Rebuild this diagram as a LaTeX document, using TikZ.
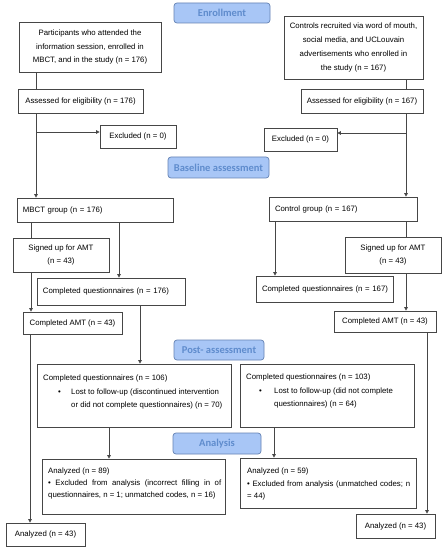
\documentclass[tikz,border=0pt]{standalone}
\usepackage{fontspec}
\setmainfont{Liberation Sans}
\newfontfamily\tabfont{Carlito}
\usetikzlibrary{arrows.meta}
\definecolor{tabfill}{RGB}{168,198,246}
\definecolor{tabdraw}{RGB}{100,130,180}
\definecolor{tabtext}{RGB}{95,140,205}
\definecolor{boxline}{RGB}{70,70,70}
\newcommand\boxfont[1]{\fontsize{7.8bp}{#1}\selectfont}
\begin{document}
\begin{tikzpicture}[x=1bp,y=-1bp,
  box/.style={draw=boxline, line width=0.7bp, fill=white, inner sep=0pt, align=center, font=\boxfont{13.7bp}},
  lbox/.style={box, align=left, inner xsep=6bp},
  tab/.style={draw=tabdraw, fill=tabfill, line width=0.7bp, rounded corners=3bp, inner sep=0pt, font=\tabfont\bfseries\fontsize{10.5bp}{12bp}\selectfont, text=tabtext},
  txt/.style={inner sep=0pt, anchor=base west},
  conn/.style={draw=boxline, line width=0.7bp},
  arr/.style={conn, -{Triangle[length=3.5bp,width=3.5bp]}},
]
\fill[white] (0,0) rectangle (446,550);
\useasboundingbox (0,0) rectangle (446,550);

% phase tabs
\node[tab, minimum width=96bp, minimum height=20bp] (enr) at (222,13) {Enrollment};
\node[tab, minimum width=101bp, minimum height=21bp] (base) at (218.5,167.5) {Baseline assessment};
\node[tab, minimum width=90bp, minimum height=20bp] (post) at (219,350) {Post- assessment};
\node[tab, minimum width=88bp, minimum height=21bp] (ana) at (217,443.5) {Analysis};

% left column
\node[box, minimum width=142bp, minimum height=50bp] (p1) at (90,47) {Participants who attended the\\information session, enrolled in\\MBCT, and in the study (n = 176)};
\node[box, minimum width=125bp, minimum height=24bp] (asl) at (80.5,101) {Assessed for eligibility (n = 176)};
\node[box, minimum width=76bp, minimum height=23bp] (exl) at (138,136.5) {Excluded (n = 0)};
\node[lbox, text width=144bp, minimum height=24bp] (mbct) at (95,210) {\mbox{MBCT group (n = 176)}};
\node[box, minimum width=96bp, minimum height=34bp] (sul) at (61,255) {Signed up for AMT\\(n = 43)};
\node[lbox, text width=136bp, minimum height=27bp] (cql) at (111,291.5) {\mbox{Completed questionnaires (n = 176)}};
\node[box, minimum width=99bp, minimum height=22bp] (amtl) at (72.5,323) {Completed AMT (n = 43)};
\node[box, minimum width=194bp, minimum height=63bp] (postl) at (134,395.5) {};
\node[txt] (postlt) at (43,380.6) {\parbox[t]{250bp}{\boxfont{13.5bp}Completed questionnaires (n = 106)\\\hspace*{15bp}\makebox[13bp][l]{•}Lost to follow-up (discontinued intervention\\\hspace*{28bp}or did not complete questionnaires) (n = 70)}};
\node[box, minimum width=183bp, minimum height=55bp] (anl) at (133.5,486.5) {};
\node[txt] (anlt) at (48,473.6) {\parbox[t]{250bp}{\boxfont{11.8bp}Analyzed (n = 89)\\\makebox[173bp][s]{• Excluded from analysis (incorrect filling in of}\\questionnaires, n = 1; unmatched codes, n = 16)}};
\node[box, minimum width=79bp, minimum height=23bp] (anls) at (45.5,534.5) {Analyzed (n = 43)};

% right column
\node[box, minimum width=139bp, minimum height=63bp] (ctl) at (353.5,47.5) {Controls recruited via word of mouth,\\social media, and UCLouvain\\advertisements who enrolled in\\the study (n = 167)};
\node[box, minimum width=122bp, minimum height=24bp] (asr) at (362,101) {Assessed for eligibility (n = 167)};
\node[box, minimum width=73bp, minimum height=23bp] (exr) at (300.5,139.5) {Excluded (n = 0)};
\node[lbox, text width=136bp, minimum height=24bp] (cg) at (343,209) {\mbox{Control group (n = 167)}};
\node[box, minimum width=96bp, minimum height=36bp] (sur) at (393,255) {Signed up for AMT\\(n = 43)};
\node[lbox, text width=125bp, minimum height=26bp] (cqr) at (324.5,289) {\mbox{Completed questionnaires (n = 167)}};
\node[box, minimum width=102bp, minimum height=21bp] (amtr) at (385,321.5) {Completed AMT (n = 43)};
\node[box, minimum width=174bp, minimum height=63bp] (postr) at (327,395.5) {};
\node[txt] (postrt) at (246,379.6) {\parbox[t]{250bp}{\boxfont{13.5bp}Completed questionnaires (n = 103)\\\hspace*{13bp}\makebox[15bp][l]{•}Lost to follow-up (did not complete\\\hspace*{28bp}questionnaires) (n = 64)}};
\node[box, minimum width=176bp, minimum height=50bp] (anr) at (328,483) {};
\node[txt] (anrt) at (247,473.6) {\parbox[t]{250bp}{\boxfont{12.6bp}Analyzed (n = 59)\\\makebox[163bp][s]{• Excluded from analysis (unmatched codes; n}\\= 44)}};
\node[box, minimum width=79bp, minimum height=24bp] (anrs) at (395.5,526) {Analyzed (n = 43)};

% connector x positions
\coordinate (x30) at (30,0);
\coordinate (x31) at (31,0);
\coordinate (x36) at (36,0);
\coordinate (x109) at (109,0);
\coordinate (x119) at (119,0);
\coordinate (x140) at (140,0);
\coordinate (x274) at (274,0);
\coordinate (x275) at (275,0);
\coordinate (x406) at (406,0);
\coordinate (x427) at (427,0);
\coordinate (bl) at (36,132);
\coordinate (br) at (406,133);

% left connectors
\draw[conn] (x36 |- p1.south) -- (x36 |- asl.north);
\draw[arr] (x36 |- asl.south) -- (x36 |- mbct.north);
\draw[arr] (bl) -- (bl -| exl.west);
\draw[conn] (x31 |- mbct.south) -- (x31 |- sul.north);
\draw[arr] (x119 |- mbct.south) -- (x119 |- cql.north);
\draw[arr] (x31 |- sul.south) -- (x31 |- amtl.north);
\draw[arr] (x30 |- amtl.south) -- (x30 |- anls.north);
\draw[arr] (x140 |- cql.south) -- (x140 |- postl.north);
\draw[arr] (x109 |- postl.south) -- (x109 |- anl.north);

% right connectors
\draw[conn] (x406 |- ctl.south) -- (x406 |- asr.north);
\draw[arr] (x406 |- asr.south) -- (x406 |- cg.north);
\draw[arr] (br) -- (br -| exr.east);
\draw[arr] (x275 |- cg.south) -- (x275 |- cqr.north);
\draw[conn] (x406 |- cg.south) -- (x406 |- sur.north);
\draw[arr] (x406 |- sur.south) -- (x406 |- amtr.north);
\draw[arr] (x427 |- amtr.south) -- (x427 |- anrs.north);
\draw[arr] (x274 |- postr.south) -- (x274 |- anr.north);
\end{tikzpicture}
\end{document}
